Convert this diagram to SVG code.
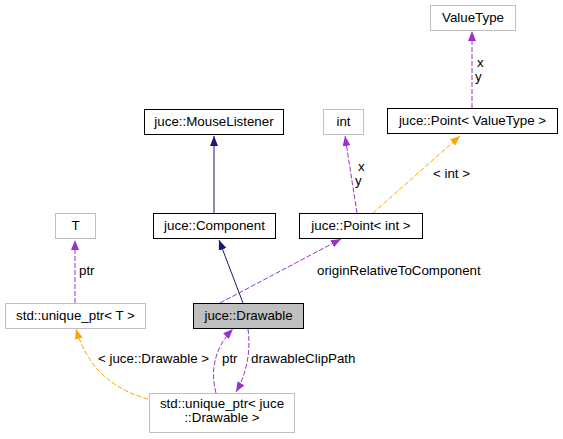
<svg xmlns="http://www.w3.org/2000/svg" width="563" height="439" viewBox="0 0 563 439">
<style>
text{font-family:"Liberation Sans",Arial,sans-serif;font-size:13.33px;fill:#000}
.n rect{fill:#fff;stroke:#000}
.g rect{fill:#fff;stroke:#bfbfbf}
.c{text-anchor:middle}
.e{fill:none;stroke-width:1}
.navy{stroke:#191970}
.pur{stroke:#9a32cd;stroke-dasharray:5,2}
.org{stroke:#ffa500;stroke-dasharray:5,2}
</style>
<defs>
<marker id="an" viewBox="0 0 10 8" refX="10" refY="4" markerWidth="10" markerHeight="8" markerUnits="userSpaceOnUse" orient="auto"><path d="M0,0L10,4L0,8z" fill="#191970"/></marker>
<marker id="ap" viewBox="0 0 10 8" refX="10" refY="4" markerWidth="10" markerHeight="8" markerUnits="userSpaceOnUse" orient="auto"><path d="M0,0L10,4L0,8z" fill="#9a32cd"/></marker>
<marker id="ao" viewBox="0 0 10 8" refX="10" refY="4" markerWidth="10" markerHeight="8" markerUnits="userSpaceOnUse" orient="auto"><path d="M0,0L10,4L0,8z" fill="#ffa500"/></marker>
</defs>
<rect width="563" height="439" fill="#fff"/>
<g id="edges">
<path class="e navy" d="M214,213V136" marker-end="url(#an)"/>
<path class="e navy" d="M243,303L219,240" marker-end="url(#an)"/>
<path class="e pur" d="M472,108V31" marker-end="url(#ap)"/>
<text x="477" y="67">x</text><text x="475" y="81">y</text>
<path class="e pur" d="M357,213L345,136" marker-end="url(#ap)"/>
<text x="358" y="171">x</text><text x="355" y="185">y</text>
<path class="e org" d="M373,213L460,136" marker-end="url(#ao)"/>
<text x="433" y="178">&lt; int &gt;</text>
<path class="e pur" d="M220,303L341,239" marker-end="url(#ap)"/>
<text x="317" y="275">originRelativeToComponent</text>
<path class="e pur" d="M75,303V240" marker-end="url(#ap)"/>
<text x="79" y="275">ptr</text>
<path class="e org" d="M148,399C115,390 88,370 76,329" marker-end="url(#ao)"/>
<text x="98" y="363">&lt; juce::Drawable &gt;</text>
<path class="e pur" d="M216,393C211,375 212,350 233,329" marker-end="url(#ap)"/>
<text x="222" y="363">ptr</text>
<path class="e pur" d="M248,329C251,350 247,373 236,392" marker-end="url(#ap)"/>
<text x="251" y="363">drawableClipPath</text>
</g>
<g id="ValueType" class="g"><rect x="430.5" y="5.5" width="85" height="25"/><text class="c" x="473" y="22">ValueType</text></g>
<g id="PointVT" class="n"><rect x="387.5" y="108.5" width="170" height="25"/><text class="c" x="472.5" y="125">juce::Point&lt; ValueType &gt;</text></g>
<g id="MouseListener" class="n"><rect x="144.5" y="109.5" width="139" height="25"/><text class="c" x="214" y="126">juce::MouseListener</text></g>
<g id="int" class="g"><rect x="323.5" y="109.5" width="40" height="25"/><text class="c" x="343.5" y="126">int</text></g>
<g id="Component" class="n"><rect x="153.5" y="213.5" width="122" height="25"/><text class="c" x="214.5" y="230">juce::Component</text></g>
<g id="PointInt" class="n"><rect x="299.5" y="213.5" width="123" height="25"/><text class="c" x="361" y="230">juce::Point&lt; int &gt;</text></g>
<g id="T" class="g"><rect x="55.5" y="213.5" width="40" height="25"/><text class="c" x="75.5" y="230">T</text></g>
<g id="UniqueT" class="g"><rect x="5.5" y="303.5" width="140" height="25"/><text class="c" x="75.5" y="320">std::unique_ptr&lt; T &gt;</text></g>
<g id="Drawable"><rect x="193.5" y="303.5" width="110" height="25" fill="#bfbfbf" stroke="#000"/><text class="c" x="248.5" y="320">juce::Drawable</text></g>
<g id="UniqueDrawable" class="g"><rect x="149.5" y="393.5" width="145" height="39"/><text class="c" x="222" y="408">std::unique_ptr&lt; juce</text><text class="c" x="222" y="422">::Drawable &gt;</text></g>
</svg>
